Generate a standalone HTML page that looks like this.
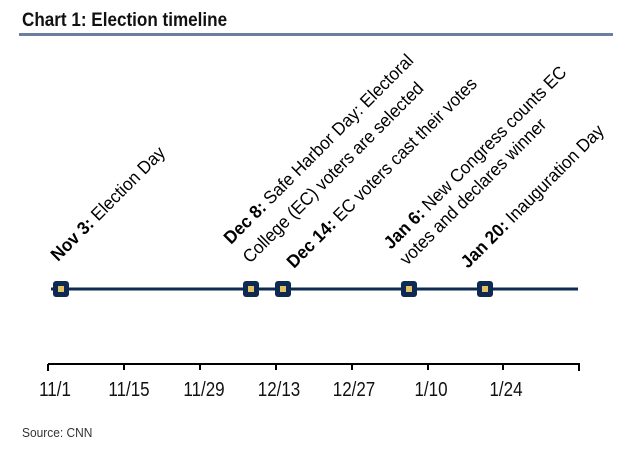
<!DOCTYPE html>
<html><head><meta charset="utf-8"><style>
body{margin:0;background:#fff;}
svg{display:block;}
</style></head><body>
<svg width="627" height="449" xmlns="http://www.w3.org/2000/svg" font-family="Liberation Sans, Arial, sans-serif">
<text x="0" y="0" font-size="19" font-weight="bold" fill="#111" transform="translate(22,26) scale(0.9,1)">Chart 1: Election timeline</text>
<rect x="19" y="33" width="594" height="3" fill="#6b7fa0"/>
<g fill="#000" font-size="18">
<text transform="translate(58,262) rotate(-45) scale(0.95,1)"><tspan font-weight="bold">Nov 3:</tspan> Election Day</text>
<text transform="translate(231,245) rotate(-45) scale(0.95,1)"><tspan font-weight="bold">Dec 8:</tspan> Safe Harbor Day: Electoral</text>
<text transform="translate(250,264) rotate(-45) scale(0.95,1)">College (EC) voters are selected</text>
<text transform="translate(294,269) rotate(-45) scale(0.95,1)"><tspan font-weight="bold">Dec 14:</tspan> EC voters cast their votes</text>
<text transform="translate(391,250) rotate(-45) scale(0.95,1)"><tspan font-weight="bold">Jan 6:</tspan> New Congress counts EC</text>
<text transform="translate(407,266) rotate(-45) scale(0.95,1)">votes and declares winner</text>
<text transform="translate(468,269) rotate(-45) scale(0.95,1)"><tspan font-weight="bold">Jan 20:</tspan> Inauguration Day</text>
</g>
<line x1="51" y1="289" x2="578" y2="289" stroke="#0e2a52" stroke-width="3"/>
<g fill="#0e2a52">
<rect x="53" y="281" width="16" height="16" rx="3"/>
<rect x="243" y="281" width="16" height="16" rx="3"/>
<rect x="275" y="281" width="16" height="16" rx="3"/>
<rect x="401" y="281" width="16" height="16" rx="3"/>
<rect x="477" y="281" width="16" height="16" rx="3"/>
</g>
<g fill="#e2c265">
<rect x="58" y="286" width="6" height="6"/>
<rect x="248" y="286" width="6" height="6"/>
<rect x="280" y="286" width="6" height="6"/>
<rect x="406" y="286" width="6" height="6"/>
<rect x="482" y="286" width="6" height="6"/>
</g>
<line x1="48" y1="364" x2="580" y2="364" stroke="#000" stroke-width="2"/>
<g stroke="#000" stroke-width="2">
<line x1="48" y1="364" x2="48" y2="371"/>
<line x1="124" y1="364" x2="124" y2="370"/>
<line x1="200" y1="364" x2="200" y2="370"/>
<line x1="276" y1="364" x2="276" y2="370"/>
<line x1="352" y1="364" x2="352" y2="370"/>
<line x1="428" y1="364" x2="428" y2="370"/>
<line x1="503" y1="364" x2="503" y2="370"/>
<line x1="579" y1="364" x2="579" y2="371"/>
</g>
<g font-size="20" fill="#111" text-anchor="middle">
<text transform="translate(55,396) scale(0.85,1)">11/1</text>
<text transform="translate(129,396) scale(0.85,1)">11/15</text>
<text transform="translate(204,396) scale(0.85,1)">11/29</text>
<text transform="translate(279,396) scale(0.85,1)">12/13</text>
<text transform="translate(354,396) scale(0.85,1)">12/27</text>
<text transform="translate(431,396) scale(0.85,1)">1/10</text>
<text transform="translate(506,396) scale(0.85,1)">1/24</text>
</g>
<text transform="translate(22,437) scale(0.92,1)" font-size="13" fill="#333">Source: CNN</text>
</svg>
</body></html>
